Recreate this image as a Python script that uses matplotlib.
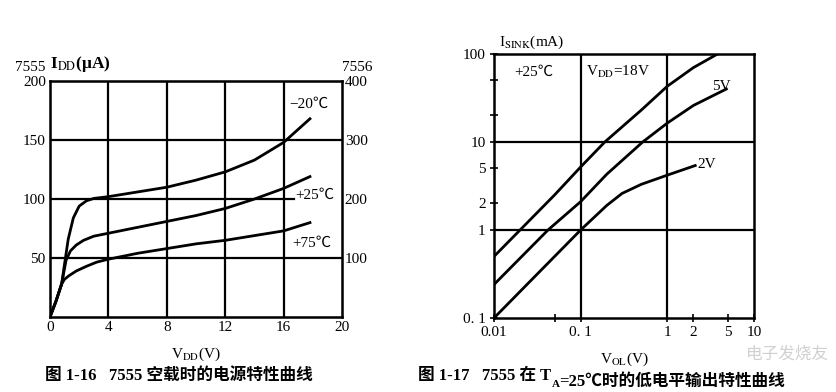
import matplotlib
matplotlib.use("Agg")
import matplotlib.pyplot as plt
from matplotlib.ticker import FixedLocator, NullFormatter

plt.rcParams["font.family"] = ["Liberation Serif", "Noto Sans CJK SC", "DejaVu Sans"]
plt.rcParams["mathtext.fontset"] = "stix"

# --- Fig 1-16: supply current vs supply voltage
vdd_m20 = [0, 0.4, 0.8, 1.0, 1.25, 1.6, 2.0, 2.5, 3.0, 4.0, 6.0, 8.0, 10.0, 12.0, 14.0, 16.0, 17.8]
idd_m20 = [0, 13, 28, 45, 66, 84, 94, 98.5, 100.5, 102, 106, 110, 116, 123, 133, 148, 168]
vdd_25 = [0, 0.4, 0.8, 1.1, 1.4, 1.8, 2.3, 3.0, 4.0, 6.0, 8.0, 10.0, 12.0, 14.0, 16.0, 17.8]
idd_25 = [0, 13, 28, 48, 56, 61, 65, 68.5, 71, 76, 81, 86, 92, 100, 109, 119]
vdd_75 = [0, 0.4, 0.8, 1.0, 1.3, 1.8, 2.5, 3.2, 4.0, 6.0, 8.0, 10.0, 12.0, 14.0, 16.0, 17.8]
idd_75 = [0, 13, 28, 32, 35, 39, 43, 46.5, 49, 54, 58, 62, 65, 69, 73, 80]
left_xticks = [0, 4, 8, 12, 16, 20]
left_yticks = [50, 100, 150, 200]
right_yticks = ["100", "200", "300", "400"]

# --- Fig 1-17: sink current vs output low voltage
vol_18 = [0.01, 0.02, 0.05, 0.1, 0.19, 0.5, 1, 2, 3.8]
isink_18 = [0.5, 1.0, 2.5, 5.2, 10, 23, 43, 70, 100]
vol_5 = [0.01, 0.042, 0.1, 0.2, 0.52, 1, 2, 4.8]
isink_5 = [0.24, 1.0, 2.1, 4.3, 10, 16.4, 26, 40]
vol_2 = [0.01, 0.03, 0.1, 0.2, 0.3, 0.5, 1, 2.1]
isink_2 = [0.1, 0.3, 1.0, 1.9, 2.6, 3.3, 4.2, 5.4]
sink_xticks = [0.01, 0.1, 1, 2, 5, 10]
sink_xlabels = ["0.01", "0. 1", "1", "2", "5", "10"]
sink_yticks = [0.1, 1, 2, 5, 10, 100]
sink_ylabels = ["0. 1", "1", "2", "5", "10", "100"]

fig = plt.figure(figsize=(8.37, 3.92), dpi=100)
fs = 11

# ---------------- left chart ----------------
ax = fig.add_axes([0.0597, 0.1913, 0.349, 0.602])
for v in [4, 8, 12, 16]:
    ax.axvline(v, color="black", lw=1.6)
ax.axhline(150, color="black", lw=1.6)
ax.axhline(50, color="black", lw=1.6)
ax.plot([0, 16.7], [100, 100], color="black", lw=1.6)
for xs, ys in [(vdd_m20, idd_m20), (vdd_25, idd_25), (vdd_75, idd_75)]:
    ax.plot(xs, ys, color="black", lw=2)
ax.set_xlim(0, 20)
ax.set_ylim(0, 200)
ax.set_xticks(left_xticks)
ax.set_xticklabels([str(t) for t in left_xticks], fontsize=fs)
ax.set_yticks(left_yticks)
ax.set_yticklabels([str(t) for t in left_yticks], fontsize=fs)
ax.tick_params(length=0, pad=3)
for s in ax.spines.values():
    s.set_linewidth(1.8)
ax2 = ax.twinx()
ax2.set_ylim(0, 400)
ax2.set_yticks([100, 200, 300, 400])
ax2.set_yticklabels(right_yticks, fontsize=fs)
ax2.tick_params(length=0, pad=2)
ax.text(16.4, 180, "−20℃", fontsize=fs, va="center")
ax.text(16.8, 103, "+25℃", fontsize=fs, va="center")
ax.text(16.6, 62, "+75℃", fontsize=fs, va="center")
ax.text(-0.12, 1.03, "7555", transform=ax.transAxes, fontsize=fs,
        ha="left", va="bottom")
ax.text(0.0, 1.03, "I$_{\\rm DD}$(μA)", transform=ax.transAxes, fontsize=12.5,
        ha="left", va="bottom", weight="bold")
ax.text(1.0, 1.03, "7556", transform=ax.transAxes, fontsize=fs, ha="left", va="bottom")
ax.set_xlabel("V$_{\\rm DD}$(V)", fontsize=fs, labelpad=8)

# ---------------- right chart ----------------
bx = fig.add_axes([0.5902, 0.1888, 0.3106, 0.6735])
bx.set_xscale("log")
bx.set_yscale("log")
bx.set_xlim(0.01, 10)
bx.set_ylim(0.1, 100)
for v in [0.1, 1]:
    bx.axvline(v, color="black", lw=1.6)
for h in [1, 10]:
    bx.axhline(h, color="black", lw=1.6)
for xs, ys in [(vol_18, isink_18), (vol_5, isink_5), (vol_2, isink_2)]:
    bx.plot(xs, ys, color="black", lw=2)
bx.xaxis.set_major_locator(FixedLocator(sink_xticks))
bx.set_xticklabels(sink_xlabels, fontsize=fs)
bx.yaxis.set_major_locator(FixedLocator(sink_yticks))
bx.set_yticklabels(sink_ylabels, fontsize=fs)
bx.xaxis.set_minor_locator(FixedLocator([0.05]))
bx.yaxis.set_minor_locator(FixedLocator([20, 50]))
bx.xaxis.set_minor_formatter(NullFormatter())
bx.yaxis.set_minor_formatter(NullFormatter())
bx.tick_params(which="both", direction="inout", length=6, width=1.2, pad=3)
for s in bx.spines.values():
    s.set_linewidth(1.8)
bx.text(0.017, 62, "+25℃", fontsize=fs, va="center")
bx.text(0.115, 62, "V$_{\\rm DD}$=18V", fontsize=fs, va="center")
bx.text(3.3, 43, "5V", fontsize=fs, va="center")
bx.text(2.25, 5.6, "2V", fontsize=fs, va="center")
bx.text(0.02, 1.01, "I$_{\\rm SINK}$(mA)", transform=bx.transAxes, fontsize=fs,
        ha="left", va="bottom")
bx.set_xlabel("V$_{\\rm OL}$(V)", fontsize=fs, labelpad=8)

# captions (subscript A is its own small text so the CJK fallback still works)
cfs = 12
fig.text(0.054, 0.03, "图 1-16   7555 空载时的电源特性曲线", fontsize=cfs, weight="bold")
c1 = fig.text(0.5, 0.03, "图 1-17   7555 在 T", fontsize=cfs, weight="bold")
c2 = fig.add_artist(plt.Annotation("A", xy=(1, 0), xycoords=c1, xytext=(0, -2),
                                   textcoords="offset points", fontsize=8, weight="bold",
                                   ha="left", va="baseline"))
fig.add_artist(plt.Annotation("=25℃时的低电平输出特性曲线", xy=(1, 0), xycoords=c2,
                              xytext=(0, 2), textcoords="offset points", fontsize=cfs,
                              weight="bold", ha="left", va="baseline"))
fig.text(0.99, 0.085, "电子发烧友", fontsize=12, color="#d0d0d0", ha="right", style="italic")

fig.savefig("out.png", dpi=100)
